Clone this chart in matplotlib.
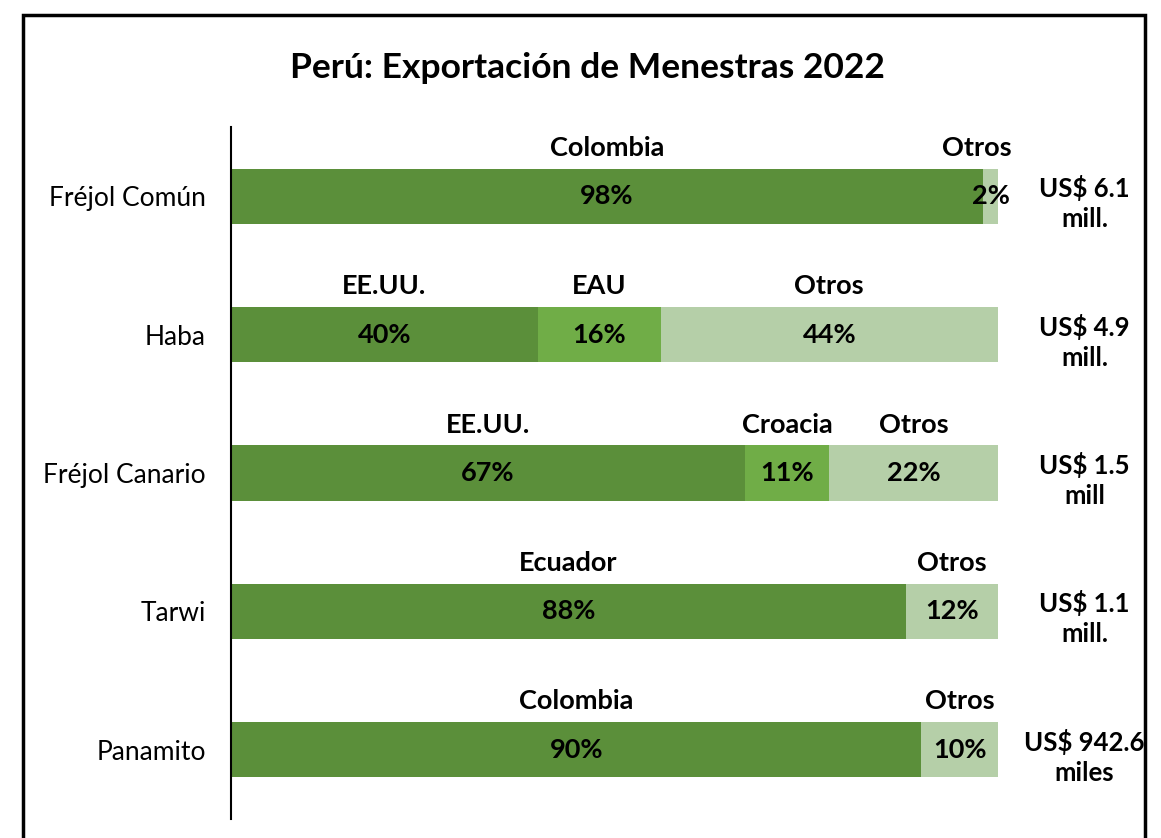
import numpy as np
import matplotlib
matplotlib.use("Agg")
import matplotlib.pyplot as plt
from matplotlib.patches import Rectangle

plt.rcParams['font.family'] = ['Lato', 'DejaVu Sans']

#%% data
productos = ['Fréjol Común', 'Haba', 'Fréjol Canario', 'Tarwi', 'Panamito']
# shares (%) per destination, first destination / second destination / otros
destino1 = ['Colombia', 'EE.UU.', 'EE.UU.', 'Ecuador', 'Colombia']
share1 = [98, 40, 67, 88, 90]
destino2 = ['', 'EAU', 'Croacia', '', '']
share2 = [0, 16, 11, 0, 0]
share_otros = [2, 44, 22, 12, 10]
montos = ['US$ 6.1\nmill.', 'US$ 4.9\nmill.', 'US$ 1.5\nmill', 'US$ 1.1\nmill.', 'US$ 942.6\nmiles']

c_dark = '#5B8F3A'
c_mid = '#70AD47'
c_light = '#B5CFA8'

fig = plt.figure(figsize=(11.61, 8.38), dpi=100)
ax = fig.add_axes([231/1161, 1 - 819/838, (998 - 231)/1161, 692/838])

y = np.arange(len(productos))
h = 0.4
s1 = np.array(share1)
s2 = np.array(share2)
s3 = np.array(share_otros)

ax.barh(y, s1, height=h, color=c_dark)
ax.barh(y, s2, height=h, left=s1, color=c_mid)
ax.barh(y, s3, height=h, left=s1 + s2, color=c_light)

fs = 19.5
for i in range(len(productos)):
    segs = [(destino1[i], s1[i], 0), (destino2[i], s2[i], s1[i]), ('Otros', s3[i], s1[i] + s2[i])]
    for name, val, left in segs:
        if val == 0:
            continue
        if val < 5:
            # tiny slice: push labels to the right edge
            xc, ha = 101.8, 'right'
            ax.text(101.6, y[i], f'{val}%', ha=ha, va='center', fontsize=fs, fontweight='bold')
        else:
            xc, ha = left + val / 2, 'center'
            ax.text(xc, y[i], f'{val}%', ha=ha, va='center', fontsize=fs, fontweight='bold')
        ax.text(xc, y[i] - 0.35, name, ha=ha, va='center', fontsize=fs, fontweight='bold')
    ax.text(111.3, y[i] + 0.05, montos[i], ha='center', va='center', fontsize=18.5,
            fontweight='bold', linespacing=1.3)

ax.set_xlim(0, 100)
ax.set_ylim(4.5, -0.5)
ax.set_yticks(y)
ax.set_yticklabels(productos, fontsize=19)
ax.tick_params(axis='y', length=0, pad=18)
ax.set_xticks([])
for sp in ['top', 'right', 'bottom']:
    ax.spines[sp].set_visible(False)
ax.spines['left'].set_linewidth(1.5)

fig.text(587/1161, 1 - 68/838, 'Perú: Exportación de Menestras 2022', ha='center', va='center',
         fontsize=25.5, fontweight='bold')

# outer frame
fig.patches.append(Rectangle((23/1161, -0.05), (1145 - 23)/1161, 1.05 - 15/838, transform=fig.transFigure,
                             fill=False, edgecolor='black', linewidth=2.5, clip_on=False))

fig.savefig('out.png', dpi=100)
